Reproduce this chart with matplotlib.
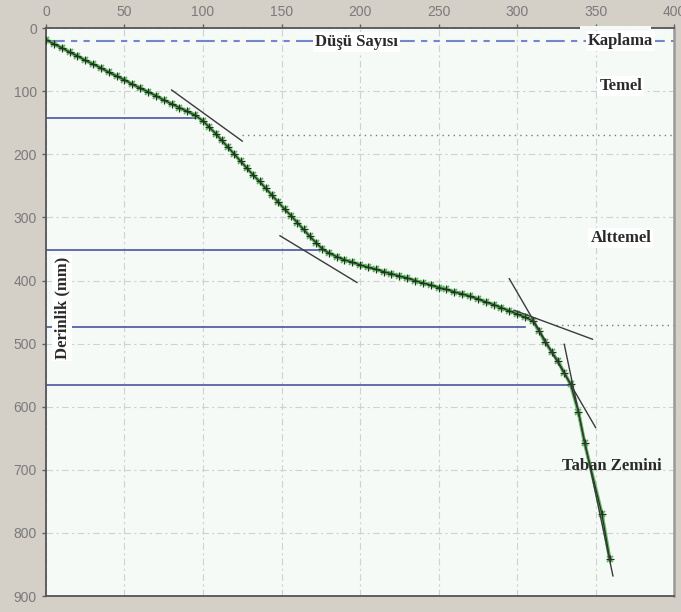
import matplotlib
matplotlib.use("Agg")
from matplotlib import pyplot as plt
from matplotlib.patches import Rectangle

# DCP curve: cumulative blows vs depth (mm)
blows = [0, 5, 10, 15, 20, 25, 30, 35, 40, 45, 50, 55, 60, 65, 70, 75, 80, 85, 90, 95,
         100, 104, 108, 112, 116, 120, 124, 128, 132, 136, 140, 144, 148, 152, 156, 160,
         164, 168, 172, 176, 180, 185, 190, 195, 200, 205, 210, 215, 220, 225, 230, 235,
         240, 245, 250, 255, 260, 265, 270, 275, 280, 285, 290, 295, 300, 305, 310,
         314, 318, 322, 326, 330, 334, 339, 343, 354, 359]
depth = [18, 25, 31, 38, 44, 51, 57, 63, 70, 76, 82, 89, 95, 101, 107, 114, 120, 126, 132, 138,
         147, 157, 167, 178, 189, 200, 211, 222, 233, 243, 254, 265, 276, 287, 297, 308,
         319, 330, 340, 350, 356, 362, 367, 371, 375, 379, 382, 386, 389, 393, 396, 400,
         404, 407, 411, 414, 418, 421, 425, 429, 434, 438, 443, 448, 453, 458, 464,
         480, 498, 513, 528, 546, 564, 608, 658, 770, 842]

# tangent lines (x0, x1), (d0, d1)
tan_x = [(80, 125), (149, 198), (298, 348), (295, 350), (330, 361)]
tan_d = [(98, 179), (329, 403), (447, 493), (397, 633), (501, 868)]

# layer boundaries: depth, end x
layer_depth = [142, 352, 474, 566]
layer_end = [98, 176, 305, 335]
dotted_depth = [170, 470]
dotted_start = [125, 325]

surface_depth = 20
layer_names = ["Kaplama", "Temel", "Alttemel", "Taban Zemini"]
name_x = [366, 366, 366, 360]
name_d = [21, 92, 332, 694]

fig = plt.figure(figsize=(6.81, 6.12), dpi=100, facecolor="#d4d0c8")
ax = fig.add_axes([0.0675, 0.026, 0.9225, 0.928])
ax.set_facecolor("#f5faf7")

ax.set_xlim(0, 400)
ax.set_ylim(900, 0)
ax.set_xticks(range(0, 401, 50))
ax.set_yticks(range(0, 901, 100))
ax.xaxis.tick_top()
ax.tick_params(colors="#606060", labelcolor="#7a7a7a", labelsize=10, length=3, width=1)
for lab in ax.get_xticklabels() + ax.get_yticklabels():
    lab.set_family("Liberation Sans")
ax.grid(True, color="#cfd3d0", linestyle=(0, (6, 3, 2, 3)), linewidth=0.8)
ax.set_axisbelow(True)
for s in ["left", "top", "bottom"]:
    ax.spines[s].set_color("#555555")
    ax.spines[s].set_linewidth(1.3)
ax.spines["right"].set_color("#999999")
ax.spines["right"].set_linewidth(1.8)

# surface line
ax.axhline(surface_depth, color="#7585cc", linewidth=1.5, dashes=[9, 3, 3, 3, 3, 3])

# layer boundary lines
for d, xe in zip(layer_depth, layer_end):
    ax.plot([0, xe], [d, d], color="#4a55a0", linewidth=1.2)
for d, xs in zip(dotted_depth, dotted_start):
    ax.plot([xs, 400], [d, d], color="#7a7a7a", linewidth=1, linestyle=(0, (1, 3)))

# data
ax.plot(blows, depth, color="#66bb66", linewidth=2.6, marker="x", markersize=5,
        markeredgecolor="#5cb85c", markeredgewidth=1.3, zorder=4)
ax.plot(blows, depth, color="#223322", linewidth=0.9, marker="+", markersize=6,
        markeredgecolor="#223322", markeredgewidth=0.9, zorder=5)

# tangents
for xs, ds in zip(tan_x, tan_d):
    ax.plot(xs, ds, color="#3a3a3a", linewidth=1, zorder=6)

serif = "Liberation Serif"
box = dict(facecolor="#ffffff", edgecolor="none", pad=1.5)
ax.text(198, 22, "Düşü Sayısı", family=serif, fontsize=12, fontweight="bold", color="#2a2a2a",
        ha="center", va="center", bbox=box, zorder=7)
for name, nx, nd in zip(layer_names, name_x, name_d):
    ax.text(nx, nd, name, family=serif, fontsize=12, fontweight="bold", color="#2a2a2a",
            ha="center", va="center", bbox=box if name != "Taban Zemini" else None, zorder=7)
ax.text(10.5, 443, "Derinlik (mm)", family=serif, fontsize=12, fontweight="bold", color="#2a2a2a",
        rotation=90, ha="center", va="center", bbox=box, zorder=7)

# white gap in top frame
ax.add_patch(Rectangle((340, -4), 45, 6, facecolor="#f5faf7", edgecolor="none",
                       clip_on=False, zorder=8))

fig.savefig("out.png", dpi=100, facecolor=fig.get_facecolor())
